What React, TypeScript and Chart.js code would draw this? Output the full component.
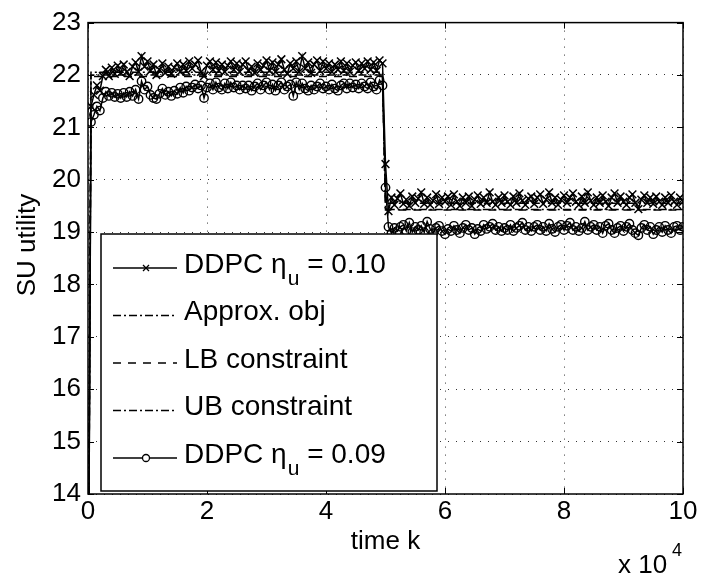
import React, { useEffect, useRef } from "react";
import { Chart, registerables } from "chart.js";

Chart.register(...registerables);

// time index k (step between samples)
const K_STEP = 500;
const K_MAX = 100000;

// DDPC eta_u = 0.10 (x markers), one value per K_STEP from k = 0
const DDPC_010 = [
  10.0,
  21.40, 21.62, 21.80, 21.70, 21.98, 22.10, 21.98, 22.14, 22.02, 22.18,
  22.04, 22.20, 22.06, 21.98, 22.16, 22.24, 22.06, 22.36, 22.16, 22.26,
  22.08, 22.20, 22.00, 22.10, 22.22, 22.04, 22.16, 22.02, 22.14, 22.22,
  22.06, 22.20, 22.08, 22.26, 22.12, 22.20, 22.28, 22.06, 21.98, 22.18,
  22.26, 22.10, 22.24, 22.08, 22.20, 22.06, 22.18, 22.26, 22.10, 22.22,
  22.06, 22.20, 22.26, 22.08, 22.16, 22.04, 22.22, 22.10, 22.18, 22.28,
  22.08, 22.24, 22.06, 22.20, 22.30, 22.10, 22.02, 22.22, 22.12, 22.26,
  22.06, 22.36, 22.12, 22.24, 22.04, 22.20, 22.28, 22.08, 22.26, 22.12,
  22.22, 22.06, 22.20, 22.10, 22.26, 22.08, 22.22, 22.06, 22.18, 22.24,
  22.08, 22.22, 22.12, 22.26, 22.10, 22.24, 22.08, 22.28, 22.22,
  20.30,
  19.40, 19.66, 19.52, 19.64, 19.74, 19.54, 19.62, 19.50, 19.68, 19.56,
  19.64, 19.76, 19.54, 19.66, 19.52, 19.60, 19.72, 19.54, 19.66, 19.58,
  19.68, 19.52, 19.72, 19.58, 19.50, 19.66, 19.56, 19.68, 19.50, 19.62,
  19.70, 19.54, 19.66, 19.56, 19.76, 19.58, 19.52, 19.66, 19.56, 19.70,
  19.58, 19.52, 19.68, 19.56, 19.74, 19.60, 19.52, 19.64, 19.68, 19.54,
  19.66, 19.72, 19.54, 19.62, 19.76, 19.56, 19.66, 19.52, 19.62, 19.70,
  19.56, 19.66, 19.74, 19.58, 19.52, 19.68, 19.56, 19.76, 19.60, 19.52,
  19.66, 19.56, 19.70, 19.58, 19.50, 19.66, 19.74, 19.56, 19.68, 19.58,
  19.52, 19.66, 19.72, 19.56, 19.44, 19.62, 19.70, 19.56, 19.66, 19.54,
  19.68, 19.58, 19.52, 19.66, 19.56, 19.70, 19.58, 19.52, 19.66, 19.58,
];

// DDPC eta_u = 0.09 (circle markers)
const DDPC_009 = [
  10.0,
  21.10, 21.24, 21.40, 21.32, 21.56, 21.68, 21.60, 21.66, 21.58, 21.64,
  21.56, 21.66, 21.58, 21.68, 21.60, 21.72, 21.54, 21.88, 21.72, 21.78,
  21.62, 21.56, 21.54, 21.64, 21.74, 21.62, 21.68, 21.60, 21.70, 21.64,
  21.76, 21.66, 21.78, 21.70, 21.76, 21.82, 21.74, 21.80, 21.56, 21.76,
  21.84, 21.72, 21.86, 21.76, 21.72, 21.84, 21.74, 21.86, 21.76, 21.80,
  21.72, 21.80, 21.74, 21.80, 21.70, 21.78, 21.84, 21.72, 21.80, 21.86,
  21.72, 21.82, 21.70, 21.80, 21.86, 21.72, 21.78, 21.82, 21.60, 21.86,
  21.72, 21.84, 21.74, 21.70, 21.80, 21.72, 21.78, 21.84, 21.74, 21.78,
  21.72, 21.82, 21.74, 21.70, 21.80, 21.84, 21.74, 21.84, 21.76, 21.82,
  21.74, 21.84, 21.78, 21.74, 21.86, 21.78, 21.72, 21.90, 21.80,
  19.85,
  19.10, 18.98, 19.08, 19.02, 19.10, 19.14, 19.02, 19.18, 19.00, 19.10,
  19.04, 19.12, 19.00, 19.20, 19.06, 18.98, 19.08, 19.12, 19.02, 18.96,
  19.06, 19.02, 19.12, 19.04, 18.98, 19.08, 19.14, 19.04, 19.08, 18.96,
  19.06, 19.02, 19.14, 19.06, 19.10, 19.16, 19.04, 19.10, 19.02, 19.08,
  19.04, 19.14, 19.02, 19.08, 19.12, 19.18, 19.04, 19.10, 19.02, 19.10,
  19.14, 19.04, 19.10, 19.02, 19.16, 19.06, 19.00, 19.10, 19.14, 19.04,
  19.12, 19.18, 19.04, 19.10, 19.02, 19.08, 19.20, 19.04, 19.10, 19.14,
  19.04, 19.10, 18.98, 19.12, 19.16, 19.04, 18.98, 19.08, 19.12, 19.02,
  19.10, 19.16, 19.04, 18.98, 18.94, 19.08, 19.14, 19.04, 19.10, 18.96,
  19.04, 19.10, 19.00, 19.12, 19.04, 18.98, 19.10, 19.12, 19.04, 19.10,
];

// piecewise-constant reference levels
const K_LEVEL = [0, 500, 49500, 50000, 100000];
const APPROX_OBJ = [10.0, 22.0, 22.0, 19.43, 19.43];
const LB_CONSTRAINT = [10.0, 21.97, 21.97, 19.42, 19.42];
const UB_CONSTRAINT = [10.0, 22.05, 22.05, 19.55, 19.55];

const Y_MIN = 14;
const Y_MAX = 23;
const X_TICK_STEP = 20000;
const X_SCALE_EXP = 4;

const FONT = '"Liberation Sans", Arial, Helvetica, sans-serif';

const sampled = (vals: number[]) => vals.map((y, i) => ({ x: i * K_STEP, y }));
const level = (vals: number[]) => vals.map((y, i) => ({ x: K_LEVEL[i], y }));

const LEGEND = [
  { kind: "x", dash: [] as number[], pre: "DDPC η", sub: "u", post: " = 0.10" },
  { kind: "", dash: [8, 3, 2, 3], pre: "Approx. obj", sub: "", post: "" },
  { kind: "", dash: [8, 7], pre: "LB constraint", sub: "", post: "" },
  { kind: "", dash: [8, 3, 2, 3], pre: "UB constraint", sub: "", post: "" },
  { kind: "o", dash: [] as number[], pre: "DDPC η", sub: "u", post: " = 0.09" },
];

const decorPlugin = {
  id: "decor",
  afterDraw(chart: any) {
    const ctx = chart.ctx as CanvasRenderingContext2D;
    const { left, right, top, bottom } = chart.chartArea;
    const xs = chart.scales.x;
    const ys = chart.scales.y;
    ctx.save();
    ctx.strokeStyle = "#000";
    ctx.fillStyle = "#000";
    // inward ticks
    ctx.lineWidth = 1;
    ctx.setLineDash([]);
    const tl = 6;
    xs.ticks.forEach((t: any) => {
      const px = Math.round(xs.getPixelForValue(t.value)) + 0.5;
      ctx.beginPath();
      ctx.moveTo(px, bottom);
      ctx.lineTo(px, bottom - tl);
      ctx.moveTo(px, top);
      ctx.lineTo(px, top + tl);
      ctx.stroke();
    });
    ys.ticks.forEach((t: any) => {
      const py = Math.round(ys.getPixelForValue(t.value)) + 0.5;
      ctx.beginPath();
      ctx.moveTo(left, py);
      ctx.lineTo(left + tl, py);
      ctx.moveTo(right, py);
      ctx.lineTo(right - tl, py);
      ctx.stroke();
    });
    // box
    ctx.lineWidth = 1.5;
    ctx.strokeRect(left, top, right - left, bottom - top);

    // axis titles
    ctx.font = `26px ${FONT}`;
    ctx.textAlign = "center";
    ctx.textBaseline = "middle";
    ctx.fillText("time k", (left + right) / 2, 542);
    ctx.save();
    ctx.translate(28, 245);
    ctx.rotate(-Math.PI / 2);
    ctx.fillText("SU utility", 0, 0);
    ctx.restore();
    // exponent label
    ctx.textAlign = "left";
    ctx.fillText("x 10", 618, 566);
    ctx.font = `18px ${FONT}`;
    ctx.fillText(String(X_SCALE_EXP), 672, 551);

    // legend
    const bx = 101, by = 234, bw = 336, bh = 257;
    ctx.fillStyle = "#fff";
    ctx.fillRect(bx, by, bw, bh);
    ctx.lineWidth = 1.5;
    ctx.strokeStyle = "#000";
    ctx.strokeRect(bx, by, bw, bh);
    ctx.fillStyle = "#000";
    LEGEND.forEach((it, i) => {
      const cy = 268 + i * 47.5;
      ctx.lineWidth = 1.3;
      ctx.setLineDash(it.dash);
      ctx.beginPath();
      ctx.moveTo(113, cy);
      ctx.lineTo(177, cy);
      ctx.stroke();
      ctx.setLineDash([]);
      if (it.kind === "x") {
        const r = 3;
        ctx.beginPath();
        ctx.moveTo(146 - r, cy - r);
        ctx.lineTo(146 + r, cy + r);
        ctx.moveTo(146 - r, cy + r);
        ctx.lineTo(146 + r, cy - r);
        ctx.stroke();
      } else if (it.kind === "o") {
        ctx.beginPath();
        ctx.fillStyle = "#fff";
        ctx.arc(146, cy, 3.5, 0, Math.PI * 2);
        ctx.fill();
        ctx.stroke();
        ctx.fillStyle = "#000";
      }
      ctx.textAlign = "left";
      ctx.textBaseline = "middle";
      ctx.font = `28px ${FONT}`;
      const ty = cy - 3;
      let x = 184;
      ctx.fillText(it.pre, x, ty);
      x += ctx.measureText(it.pre).width;
      if (it.sub) {
        ctx.font = `21px ${FONT}`;
        ctx.fillText(it.sub, x + 1, ty + 14);
        x += ctx.measureText(it.sub).width + 1;
        ctx.font = `28px ${FONT}`;
      }
      if (it.post) ctx.fillText(it.post, x, ty);
    });
    ctx.restore();
  },
};

export default function App() {
  const ref = useRef<HTMLCanvasElement | null>(null);
  useEffect(() => {
    if (!ref.current) return;
    const lineBase = {
      borderColor: "#000",
      backgroundColor: "#000",
      borderWidth: 1.5,
      tension: 0,
    };
    const chart = new Chart(ref.current, {
      type: "line",
      data: {
        datasets: [
          {
            ...lineBase,
            label: "Approx. obj",
            data: level(APPROX_OBJ),
            borderDash: [8, 3, 2, 3],
            pointRadius: 0,
          },
          {
            ...lineBase,
            label: "LB constraint",
            data: level(LB_CONSTRAINT),
            borderDash: [8, 7],
            pointRadius: 0,
          },
          {
            ...lineBase,
            label: "UB constraint",
            data: level(UB_CONSTRAINT),
            borderDash: [8, 3, 2, 3],
            pointRadius: 0,
          },
          {
            ...lineBase,
            label: "DDPC η_u = 0.10",
            data: sampled(DDPC_010),
            pointStyle: "crossRot",
            pointRadius: 5.5,
            pointBorderWidth: 1.5,
            pointBorderColor: "#000",
          },
          {
            ...lineBase,
            label: "DDPC η_u = 0.09",
            data: sampled(DDPC_009),
            pointStyle: "circle",
            pointRadius: 4.2,
            pointBorderWidth: 1.4,
            pointBorderColor: "#000",
            pointBackgroundColor: "rgba(0,0,0,0)",
          },
        ],
      },
      options: {
        responsive: false,
        animation: false,
        parsing: false as any,
        layout: { padding: { top: 18, right: 18, left: 0, bottom: 0 } },
        plugins: {
          legend: { display: false },
          tooltip: { enabled: false },
          title: { display: false },
        },
        scales: {
          x: {
            type: "linear",
            min: 0,
            max: K_MAX,
            afterFit: (s: any) => {
              s.height = 85;
            },
            afterBuildTicks: (s: any) => {
              const t = [];
              for (let v = 0; v <= K_MAX; v += X_TICK_STEP) t.push({ value: v });
              s.ticks = t;
            },
            ticks: {
              color: "#000",
              font: { family: FONT, size: 26 },
              padding: 2,
              maxRotation: 0,
              callback: (v: any) => String(Number(v) / Math.pow(10, X_SCALE_EXP)),
            },
            grid: { color: "#333", lineWidth: 1, drawTicks: false },
            border: { display: false, dash: [1, 7] },
          },
          y: {
            min: Y_MIN,
            max: Y_MAX,
            afterFit: (s: any) => {
              s.width = 88;
            },
            ticks: {
              stepSize: 1,
              color: "#000",
              font: { family: FONT, size: 26 },
              padding: 7,
            },
            grid: { color: "#333", lineWidth: 1, drawTicks: false },
            border: { display: false, dash: [1, 7] },
          },
        },
      },
      plugins: [decorPlugin],
    } as any);
    return () => chart.destroy();
  }, []);
  return (
    <div style={{ position: "absolute", left: 0, top: 0, width: 701, height: 579, background: "#fff" }}>
      <canvas ref={ref} width={701} height={579} style={{ display: "block" }} />
    </div>
  );
}
